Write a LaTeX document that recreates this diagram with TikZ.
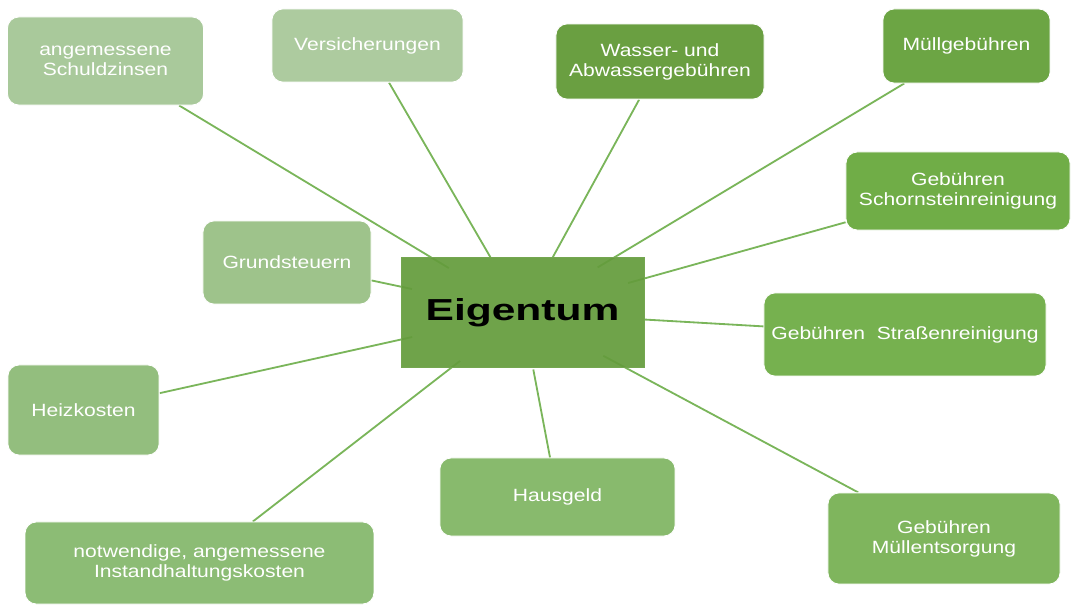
\documentclass[tikz,border=0pt]{standalone}
\usepackage{fontspec}
\setmainfont[FakeStretch=1.19]{Liberation Sans}
\newfontfamily\bigfont[FakeStretch=1.4]{Liberation Sans}
\usetikzlibrary{backgrounds}

\definecolor{lightA}{HTML}{A9C99B}
\definecolor{lightB}{HTML}{ADCB9F}
\definecolor{lightC}{HTML}{9EC38B}
\definecolor{midA}{HTML}{93BE7E}
\definecolor{midB}{HTML}{8CBC75}
\definecolor{midC}{HTML}{88BA6D}
\definecolor{midD}{HTML}{7FB55D}
\definecolor{midE}{HTML}{76B14F}
\definecolor{darkA}{HTML}{70AD47}
\definecolor{darkB}{HTML}{6CA544}
\definecolor{darkC}{HTML}{6A9F41}
\definecolor{eigfill}{HTML}{649C3C}
\definecolor{linegreen}{HTML}{7AB55A}

\tikzset{
  box/.style={rectangle, rounded corners=0.28cm, draw=white, line width=0.6pt,
    align=center, text=white, inner sep=0pt,
    font=\fontsize{12.6}{14.3}\selectfont},
  hub/.style={rectangle, fill=eigfill, fill opacity=0.93, text opacity=1,
    draw=eigfill!90!white, line width=0.6pt, inner sep=0pt,
    minimum width=6.07cm, minimum height=2.77cm,
    font=\bigfont\bfseries\fontsize{21.6}{24}\selectfont},
  conn/.style={draw=linegreen, line width=1.3pt},
}

\begin{document}
\begin{tikzpicture}[x=0.025cm, y=-0.025cm]
  \useasboundingbox (0,0) rectangle (1072,605);

  \node[hub] (eig) at (522.5,312.5) {Eigentum};

  \node[box, fill=lightA, minimum width=4.9cm, minimum height=2.2cm] (schuld) at (105.5,61) {angemessene\\Schuldzinsen};
  \node[box, fill=lightB, minimum width=4.78cm, minimum height=1.83cm] (vers) at (367.5,45.5) {Versicherungen};
  \node[box, fill=darkC, minimum width=5.2cm, minimum height=1.88cm] (wasser) at (660,61.5) {Wasser- und\\Abwassergebühren};
  \node[box, fill=darkB, minimum width=4.18cm, minimum height=1.85cm] (muell) at (966.5,46) {Müllgebühren};
  \node[box, fill=darkA, minimum width=5.6cm, minimum height=1.95cm] (schorn) at (958,191) {Gebühren\\Schornsteinreinigung};
  \node[box, fill=lightC, minimum width=4.2cm, minimum height=2.08cm] (grund) at (287,262.5) {Grundsteuern};
  \node[box, fill=midE, minimum width=7.05cm, minimum height=2.08cm] (strasse) at (905,334.5) {Gebühren\ \ Straßenreinigung};
  \node[box, fill=midA, minimum width=3.78cm, minimum height=2.25cm] (heiz) at (83.5,410) {Heizkosten};
  \node[box, fill=midC, minimum width=5.88cm, minimum height=1.95cm] (haus) at (557.5,497) {Hausgeld};
  \node[box, fill=midB, minimum width=8.72cm, minimum height=2.05cm] (instand) at (199.5,563) {notwendige, angemessene\\Instandhaltungskosten};
  \node[box, fill=midD, minimum width=5.8cm, minimum height=2.28cm] (muellent) at (944,538.5) {Gebühren\\Müllentsorgung};

  \begin{pgfonlayer}{background}
    \foreach \n/\d in {schuld/21.5, vers/16, wasser/15.75, muell/21.9, schorn/27.4,
        strasse/30.5, muellent/22.9, haus/14.5, instand/19.75, heiz/28.25, grund/28.25}
      \draw[conn, shorten <=\d mm] (eig.center) -- (\n);
  \end{pgfonlayer}
\end{tikzpicture}
\end{document}
